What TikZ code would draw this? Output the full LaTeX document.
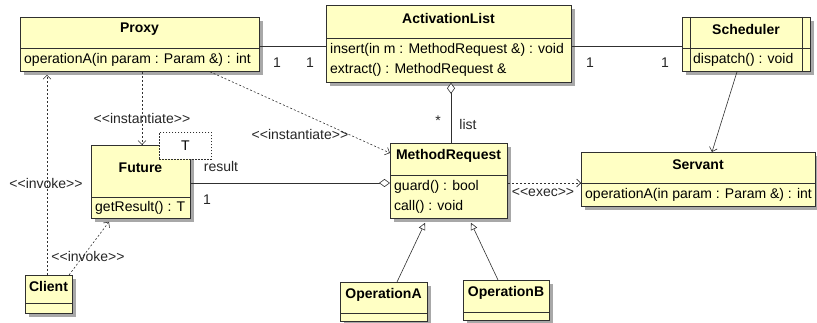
\documentclass[tikz,border=0pt]{standalone}
\usepackage{fontspec}
\setmainfont{Liberation Sans}
\usetikzlibrary{arrows.meta,calc}

\definecolor{classfill}{HTML}{FFFFC4}
\definecolor{shadowc}{HTML}{A8A8A8}
\definecolor{linec}{HTML}{303030}

\tikzset{
  classbox/.style={draw=linec, fill=classfill, line width=0.8pt, inner sep=0pt, rectangle},
  shadowbox/.style={fill=shadowc},
  titletxt/.style={font=\fontsize{14}{20}\selectfont\bfseries, inner sep=0pt},
  optxt/.style={font=\fontsize{14}{20}\selectfont, align=left, inner xsep=4pt, inner ysep=0pt, anchor=west},
  lbl/.style={font=\fontsize{14}{20}\selectfont, inner sep=0pt, text=black!85},
  assoc/.style={draw=linec, line width=0.6pt},
  dep/.style={draw=linec, line width=0.6pt, dash pattern=on 2pt off 2pt,
              -{Straight Barb[length=4pt,width=8pt]}},
  gen/.style={draw=linec, line width=0.6pt, -{Triangle[open,length=7pt,width=7pt,fill=white]}},
  aggstart/.style={draw=linec, line width=0.6pt, {Diamond[open,length=11pt,width=8pt,fill=white]}-},
  aggend/.style={draw=linec, line width=0.6pt, -{Diamond[open,length=11pt,width=8pt,fill=white]}},
}

% class box: name, x1, y1, x2, y2, divider y, title, operations
\newcommand\umlclass[8]{%
  \fill[shadowbox] (#2+4,#3+4) rectangle (#4+4,#5+4);
  \node[classbox, anchor=north west, minimum width={(#4-#2)*1pt},
        minimum height={(#5-#3)*1pt}] (#1) at (#2,#3) {};
  \draw[linec, line width=0.8pt] (#2,#6) -- (#4,#6);
  \node[titletxt] (#1-title) at ({(#2+#4)/2},{(#3+#6)/2-3}) {#7};
  \node[optxt] (#1-ops) at (#2,{(#6+#5)/2}) {#8};
}

\begin{document}
\begin{tikzpicture}[x=1pt,y=-1pt]
\useasboundingbox (0,0) rectangle (817,323);

% classes
\umlclass{proxy}{20}{17}{259}{71}{48}{Proxy}{operationA(in param : Param \&) : int}
\umlclass{alist}{326}{5}{571}{82}{38}{ActivationList}{insert(in m : MethodRequest \&) : void\\extract() : MethodRequest \&}
\umlclass{sched}{682}{17}{810}{71}{48}{Scheduler}{\hspace*{7pt}dispatch() : void}
\draw[linec, line width=0.8pt] ([xshift=8pt]sched.north west) -- ([xshift=8pt]sched.south west)
  ([xshift=-8pt]sched.north east) -- ([xshift=-8pt]sched.south east);
\umlclass{servant}{581}{152}{815}{206}{183}{Servant}{operationA(in param : Param \&) : int}
\umlclass{mreq}{390}{143}{507}{218}{175}{MethodRequest}{guard() : bool\\call() : void}
\umlclass{future}{91}{145}{190}{218}{197}{Future}{getResult() : T}
\umlclass{client}{25}{275}{72}{313}{303}{Client}{}
\umlclass{opA}{340}{282}{427}{321}{313}{OperationA}{}
\umlclass{opB}{463}{280}{549}{320}{312}{OperationB}{}

% template parameter of Future
\node[draw=linec, fill=white, line width=0.7pt, dash pattern=on 1.5pt off 1.5pt,
      anchor=north west, minimum width=52pt, minimum height=27pt, inner sep=0pt,
      font=\fontsize{14}{20}\selectfont] (tparam) at (159,132) {T};

% associations
\draw[assoc] (proxy.east |- 0,46) -- (alist.west |- 0,46);
\node[lbl] (m1) at (277,63) {1};
\node[lbl] (m2) at (310,63) {1};
\draw[assoc] (alist.east |- 0,46) -- (sched.west |- 0,46);
\node[lbl] (m3) at (590,63) {1};
\node[lbl] (m4) at (665,63) {1};

\draw[assoc, -{Straight Barb[length=4pt,width=8pt]}] (sched.south -| 737,0) -- (servant.north -| 712,0);

\draw[aggstart] (alist.south -| 451,0) -- (mreq.north -| 451,0);
\node[lbl] (star) at (438,121) {*};
\node[lbl] (listl) at (468,124) {list};

\draw[aggend] (future.east |- 0,183) -- (mreq.west |- 0,183);
\node[lbl] (resl) at (221,166) {result};
\node[lbl] (m5) at (207,200) {1};

% dependencies
\draw[dep] (mreq.east |- 0,183) -- (servant.west |- 0,183);
\node[lbl] (execl) at (543,192) {<{}<exec>{}>};

\draw[dep] (client.north -| 47,0) -- ([yshift=-3pt]proxy.south -| 47,0);
\node[lbl] (inv1) at (46,183) {<{}<invoke>{}>};

\draw[dep] (client.north -| 69,0) -- ([yshift=-3pt]future.south -| 109,0);
\node[lbl] (inv2) at (88,256) {<{}<invoke>{}>};

\draw[dep] (proxy.south -| 142,0) -- (future.north -| 142,0);
\node[lbl] (inst1) at (142,118) {<{}<instantiate>{}>};

\draw[dep] (proxy.south -| 210,0) -- (mreq.west |- 0,153);
\node[lbl] (inst2) at (300,134) {<{}<instantiate>{}>};

% generalizations
\draw[gen] (opA.north -| 397,0) -- ([yshift=-4pt]mreq.south -| 425,0);
\draw[gen] (opB.north -| 498,0) -- ([yshift=-4pt]mreq.south -| 471,0);
\end{tikzpicture}
\end{document}
